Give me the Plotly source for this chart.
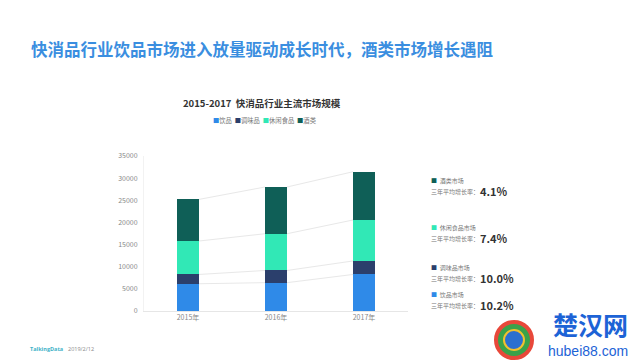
import plotly.graph_objects as go

years = ["2015年", "2016年", "2017年"]
series_names = ["饮品", "调味品", "休闲食品", "酒类"]
drinks = [6150, 6400, 8250]
condiments = [2100, 2750, 3050]
snacks = [7550, 8300, 9250]
alcohol = [9400, 10550, 10900]
colors = ["#2f8ae8", "#2b3f6c", "#31e8b6", "#0f5f57"]
growth_labels = ["酒类市场", "休闲食品市场", "调味品市场", "饮品市场"]
growth_rates = ["4.1%", "7.4%", "10.0%", "10.2%"]
growth_colors = ["#0f5f57", "#31e8b6", "#2b3f6c", "#2f8ae8"]

FONT = "Noto Sans CJK SC"
values = [drinks, condiments, snacks, alcohol]
xs = list(range(len(years)))
bar_w = 0.25

fig = go.Figure()

# connector lines between segment tops
cum = [0] * len(years)
for vals in values:
    cum = [c + v for c, v in zip(cum, vals)]
    for i in range(len(years) - 1):
        fig.add_trace(go.Scatter(
            x=[xs[i] + bar_w / 2, xs[i + 1] - bar_w / 2],
            y=[cum[i], cum[i + 1]],
            mode="lines", line=dict(color="#e8e8e8", width=1),
            showlegend=False, hoverinfo="skip"))

for name, vals, col in zip(series_names, values, colors):
    fig.add_trace(go.Bar(x=xs, y=vals, name=name, marker=dict(color=col, line=dict(width=0)),
                         width=bar_w, showlegend=False))

PW, PH, L, T = 264, 155, 136, 148


def px(x):
    return (x - L) / PW


def py(y):
    return (T + PH - y) / PH


annotations = []
annotations.append(dict(
    text="<b>快消品行业饮品市场进入放量驱动成长时代，酒类市场增长遇阻</b>",
    xref="paper", yref="paper", x=px(21), y=py(41),
    xanchor="left", yanchor="middle", showarrow=False,
    font=dict(family=FONT, size=16.5, color="#3a8ee0")))
annotations.append(dict(
    text="<b>2015-2017  快消品行业主流市场规模</b>",
    xref="paper", yref="paper", x=px(254), y=py(95),
    xanchor="center", yanchor="middle", showarrow=False,
    font=dict(family=FONT, size=9.5, color="#333333")))
leg = "  ".join(f"<span style='color:{c}'>■</span>{n}" for n, c in zip(series_names, colors))
annotations.append(dict(
    text=leg, xref="paper", yref="paper", x=px(257), y=py(112),
    xanchor="center", yanchor="middle", showarrow=False,
    font=dict(family=FONT, size=6.3, color="#777777")))

label_ys = [172, 219, 259, 286]
for lab, rate, col, yy in zip(growth_labels, growth_rates, growth_colors, label_ys):
    annotations.append(dict(
        text=f"<span style='color:{col}'>■</span>  {lab}", xref="paper", yref="paper",
        x=px(421), y=py(yy), xanchor="left", yanchor="middle",
        showarrow=False, font=dict(family=FONT, size=6, color="#777777")))
    annotations.append(dict(
        text="三年平均增长率：", xref="paper", yref="paper",
        x=px(421), y=py(yy + 11), xanchor="left", yanchor="middle",
        showarrow=False, font=dict(family=FONT, size=6, color="#777777")))
    annotations.append(dict(
        text=f"<b>{rate}</b>", xref="paper", yref="paper",
        x=px(470), y=py(yy + 11), xanchor="left", yanchor="middle",
        showarrow=False, font=dict(family=FONT, size=11, color="#333333")))

annotations.append(dict(
    text="<b>TalkingData</b>", xref="paper", yref="paper", x=px(20), y=py(341),
    xanchor="left", yanchor="middle", showarrow=False,
    font=dict(family="Open Sans", size=5.5, color="#3fb2c8")))
annotations.append(dict(
    text="2019/2/12", xref="paper", yref="paper", x=px(58), y=py(341),
    xanchor="left", yanchor="middle", showarrow=False,
    font=dict(family="Open Sans", size=5.5, color="#888888")))
annotations.append(dict(
    text="<b>楚汉网</b>", xref="paper", yref="paper", x=px(582), y=py(316),
    xanchor="center", yanchor="middle", showarrow=False,
    font=dict(family=FONT, size=25, color="#1d63d6")))
annotations.append(dict(
    text="hubei88.com", xref="paper", yref="paper", x=px(580), y=py(343),
    xanchor="center", yanchor="middle", showarrow=False,
    font=dict(family="Liberation Sans", size=14, color="#1d63d6")))

shapes = [
    dict(type="circle", xref="paper", yref="paper",
         x0=px(488), x1=px(524), y0=py(350), y1=py(314),
         line=dict(color="#e8483a", width=4), fillcolor="#3aa24a"),
    dict(type="circle", xref="paper", yref="paper",
         x0=px(496), x1=px(516), y0=py(342), y1=py(322),
         line=dict(color="#f2c12e", width=2), fillcolor="#2b6fd0"),
]

fig.update_layout(
    width=640, height=360, barmode="stack",
    margin=dict(l=L, r=640 - L - PW, t=T, b=360 - T - PH),
    paper_bgcolor="white", plot_bgcolor="white",
    annotations=annotations, shapes=shapes,
    xaxis=dict(range=[-0.5, 2.5], tickvals=xs, ticktext=years, showgrid=False,
               showline=True, linecolor="#e6e6e6", linewidth=1, zeroline=False,
               tickfont=dict(family=FONT, size=7, color="#888888"), ticks=""),
    yaxis=dict(range=[0, 35000], dtick=5000, tickformat="d", showgrid=False, zeroline=False,
               showline=True, linecolor="#f2f2f2", linewidth=1,
               tickfont=dict(family=FONT, size=7, color="#888888"), ticks="",
               ticklabelstandoff=4),
    bargap=0,
)

fig.write_html("out.html")
